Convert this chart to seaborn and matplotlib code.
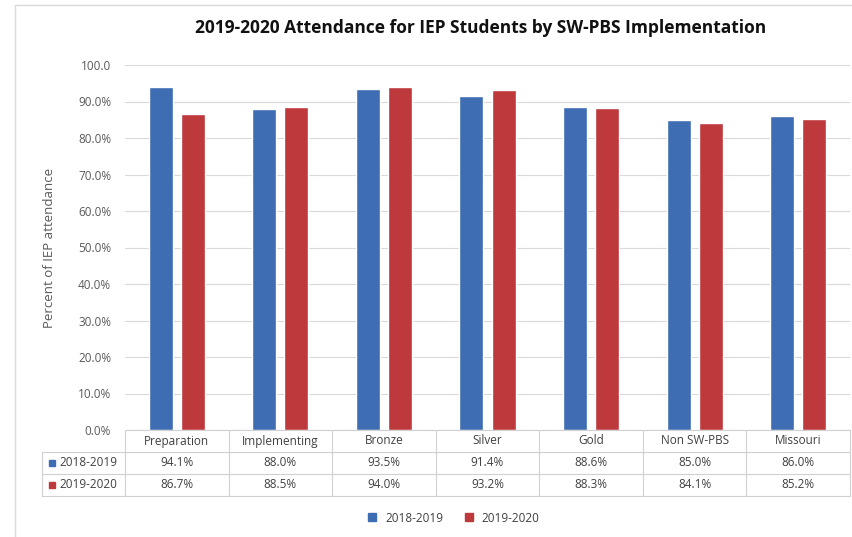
import pandas as pd
import matplotlib
matplotlib.use("Agg")
import matplotlib.pyplot as plt
import matplotlib.transforms as mtransforms
from matplotlib.lines import Line2D
import seaborn as sns

# datos
categorias = ["Preparation", "Implementing", "Bronze", "Silver", "Gold", "Non SW-PBS", "Missouri"]
anios = ["2018-2019", "2019-2020"]
valores_2018 = [94.1, 88.0, 93.5, 91.4, 88.6, 85.0, 86.0]
valores_2019 = [86.7, 88.5, 94.0, 93.2, 88.3, 84.1, 85.2]
yticks = [0, 10, 20, 30, 40, 50, 60, 70, 80, 90, 100]
ytick_labels = ["0.0%", "10.0%", "20.0%", "30.0%", "40.0%", "50.0%", "60.0%",
                "70.0%", "80.0%", "90.0%", "100.0"]

colores = ["#3F6DB3", "#BD393B"]

df = pd.DataFrame({
    "Categoria": categorias * 2,
    "Periodo": [anios[0]] * len(categorias) + [anios[1]] * len(categorias),
    "Valor": valores_2018 + valores_2019,
})

sns.set_style("white")
plt.rcParams["font.family"] = ["Open Sans", "DejaVu Sans"]

fig = plt.figure(figsize=(8.53, 5.37), dpi=100)
ax = fig.add_axes([125 / 853, 107 / 537, 725 / 853, 365 / 537])

sns.barplot(data=df, x="Categoria", y="Valor", hue="Periodo", palette=colores,
            width=0.62, gap=0.25, ax=ax, legend=False, saturation=1)

ax.set_ylim(0, 100)
ax.set_xlim(-0.5, len(categorias) - 0.5)
ax.set_yticks(yticks)
ax.set_yticklabels(ytick_labels, color="#595959", fontsize=8.5)
ax.tick_params(axis="y", length=0, pad=10)
ax.set_xticks([])
ax.set_xlabel("")
ax.set_ylabel("Percent of IEP attendance", color="#595959", fontsize=9.5, labelpad=16)
ax.yaxis.grid(True, color="#D9D9D9", linewidth=0.8)
ax.set_axisbelow(True)
for lado in ["top", "right", "left"]:
    ax.spines[lado].set_visible(False)
ax.spines["bottom"].set_color("#D0D0D0")

# tabla de datos debajo del eje
trans = mtransforms.blended_transform_factory(ax.transData, ax.transAxes)
h_fila = 22 / 365
filas_y = [0, -h_fila, -2 * h_fila, -3 * h_fila]
color_linea = "#D0D0D0"
x_izq_tabla = -0.5 - 83 / 725 * len(categorias)
for yy in filas_y[1:]:
    ax.plot([x_izq_tabla, len(categorias) - 0.5], [yy, yy], transform=trans,
            color=color_linea, lw=0.8, clip_on=False)
for i in range(len(categorias) + 1):
    ax.plot([i - 0.5, i - 0.5], [0, filas_y[-1]], transform=trans,
            color=color_linea, lw=0.8, clip_on=False)
ax.plot([x_izq_tabla, x_izq_tabla], [filas_y[1], filas_y[-1]], transform=trans,
        color=color_linea, lw=0.8, clip_on=False)

for i, cat in enumerate(categorias):
    ax.text(i, -0.5 * h_fila, cat, transform=trans, ha="center", va="center",
            fontsize=8.5, color="#404040")
    ax.text(i, -1.5 * h_fila, f"{valores_2018[i]:.1f}%", transform=trans,
            ha="center", va="center", fontsize=8.5, color="#404040")
    ax.text(i, -2.5 * h_fila, f"{valores_2019[i]:.1f}%", transform=trans,
            ha="center", va="center", fontsize=8.5, color="#404040")

for k, anio in enumerate(anios):
    yy = -(1.5 + k) * h_fila
    ax.plot([x_izq_tabla + 0.1], [yy], marker="s", ms=5, color=colores[k],
            transform=trans, clip_on=False)
    ax.text(x_izq_tabla + 0.17, yy, anio, transform=trans, ha="left", va="center",
            fontsize=8.5, color="#404040")

# leyenda inferior
handles = [Line2D([], [], marker="s", ms=6, ls="", color=c) for c in colores]
fig.legend(handles, anios, loc="center", bbox_to_anchor=(450 / 853, 1 - 518 / 537),
           ncol=2, frameon=False, fontsize=8.5, handletextpad=0.1, columnspacing=1.2,
           labelcolor="#404040")

fig.text(481 / 853, 1 - 28 / 537, "2019-2020 Attendance for IEP Students by SW-PBS Implementation",
         ha="center", va="center", fontsize=12.5, fontweight="bold", color="#111111")

# borde del grafico
fig.add_artist(Line2D([15 / 853, 15 / 853], [0, 1 - 5 / 537], color="#D9D9D9", lw=1))
fig.add_artist(Line2D([15 / 853, 1], [1 - 5 / 537, 1 - 5 / 537], color="#D9D9D9", lw=1))

fig.savefig("out.png", dpi=100)
